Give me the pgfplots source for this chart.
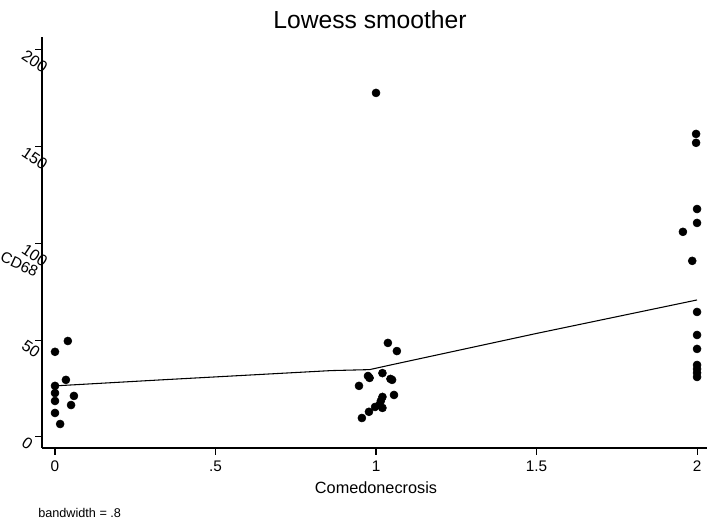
\documentclass[border=0pt]{standalone}
\usepackage{pgfplots}
\pgfplotsset{compat=1.18}
\usepackage{fontspec}
\setmainfont{Liberation Sans}
\begin{document}
\begin{tikzpicture}
\useasboundingbox (0,0) rectangle (530.25pt,392.25pt);
\begin{axis}[
  at={(31.5pt,56.25pt)}, anchor=south west,
  width=498.5pt, height=308.25pt, scale only axis,
  xmin=-0.0405, xmax=2.03, ymin=-5.7, ymax=206.7,
  axis lines=left, axis line style={-, line width=1.2pt},
  tick align=outside, major tick length=5pt,
  tick style={black, line width=0.8pt},
  xtick={0,0.5,1,1.5,2}, xticklabels={0,.5,1,1.5,2},
  ytick={0,50,100,150,200},
  /pgf/number format/assume math mode=true,
  ticklabel style={font=\fontsize{11.5}{13}\selectfont},
  xticklabel style={yshift=-1pt},
  yticklabel style={font=\fontsize{12}{13}\selectfont, anchor=west, rotate=-34, xshift=-9pt, yshift=-7.5pt},
  clip=false,
]
\addplot[only marks, mark=*, mark size=3pt, black] coordinates {
(0,44) (0.04,49.6) (0.034,29.5) (0,26.4) (0,22.7) (0,18.6) (0,12.4) (0.016,6.7) (0.059,21.2) (0.05,16.5)
(1.0,177.8) (1.037,48.6) (1.065,44.4) (0.975,31.5) (0.98,30.5) (1.02,33) (1.045,30) (1.05,29.5) (0.947,26.4) (1.056,21.7) (1.02,20.7) (1.015,18.6) (1.01,16.5) (1.02,15) (0.997,15.5) (0.978,13) (0.956,9.8)
(1.997,156.6) (1.997,152) (2,117.8) (2,110.6) (1.956,106) (1.985,91) (2,64.6) (2,52.7) (2,45.5) (2,37.2) (2,35.1) (2,33.1) (2,31)
};
\addplot[black, line width=0.8pt] coordinates {
(0,26.4) (0.33,29.5) (0.86,34.3) (0.98,34.8) (1.04,37.0) (1.5,53.5) (2,70.8)
};
\end{axis}
\node[font=\fontsize{18.5}{22}\selectfont] at (277.5pt,377.25pt) {Lowess smoother};
\node[font=\fontsize{12.2}{14}\selectfont] at (282pt,26.25pt) {Comedonecrosis};
\node[font=\fontsize{11.5}{13}\selectfont, rotate=-25, inner sep=1pt] at (14.5pt,194pt) {CD68};
\node[font=\fontsize{9.5}{11}\selectfont, anchor=west, inner sep=0pt] at (28.5pt,7.5pt) {bandwidth = .8};
\end{tikzpicture}
\end{document}
